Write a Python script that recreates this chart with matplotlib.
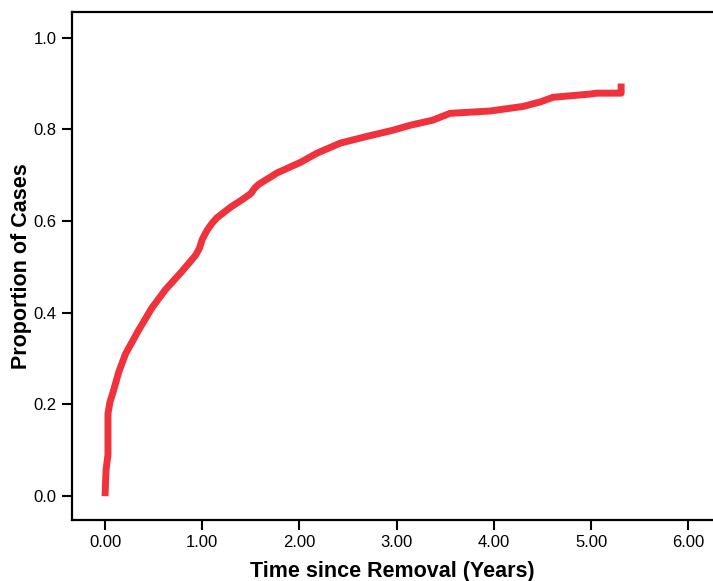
import matplotlib
matplotlib.use("Agg")
import matplotlib.pyplot as plt

plt.rcParams['font.family'] = ['Liberation Sans', 'DejaVu Sans']

years = [0.0, 0.01, 0.03, 0.03, 0.05, 0.08, 0.14, 0.21, 0.34, 0.48, 0.62, 0.79, 0.93, 0.97, 1.0,
         1.05, 1.10, 1.15, 1.29, 1.42, 1.50, 1.54, 1.58, 1.77, 2.01, 2.18, 2.42, 2.70, 2.96,
         3.14, 3.37, 3.55, 3.96, 4.30, 4.48, 4.61, 4.99, 5.06, 5.30, 5.31, 5.31]
proportion = [0.0, 0.057, 0.09, 0.18, 0.205, 0.225, 0.27, 0.31, 0.36, 0.41, 0.45, 0.49, 0.525, 0.54, 0.56,
              0.58, 0.595, 0.607, 0.63, 0.648, 0.66, 0.672, 0.68, 0.705, 0.728, 0.748, 0.77, 0.785, 0.798,
              0.809, 0.82, 0.835, 0.84, 0.85, 0.86, 0.87, 0.877, 0.879, 0.879, 0.879, 0.90]

xticks = [0, 1, 2, 3, 4, 5, 6]
xticklabels = ["0.00", "1.00", "2.00", "3.00", "4.00", "5.00", "6.00"]
yticks = [0.0, 0.2, 0.4, 0.6, 0.8, 1.0]
yticklabels = ["0.0", "0.2", "0.4", "0.6", "0.8", "1.0"]

fig = plt.figure(figsize=(7.13, 5.81), dpi=100)
ax = fig.add_axes([72/713, 1-520/581, 1-72/713, (520-12)/581])

ax.plot(years, proportion, color='#f0323c', linewidth=5, solid_capstyle='butt',
        solid_joinstyle='round')

ax.set_xlim(-0.34, 6.255)
ax.set_ylim(-0.052, 1.056)
ax.set_xticks(xticks)
ax.set_xticklabels(xticklabels)
ax.set_yticks(yticks)
ax.set_yticklabels(yticklabels)

for s in ['left', 'bottom', 'top']:
    ax.spines[s].set_linewidth(1.6)
ax.spines['right'].set_visible(False)
ax.tick_params(direction='out', length=7, width=1.5, labelsize=12, colors='black', pad=4)

ax.set_xlabel("Time since Removal (Years)", fontsize=15.5, fontweight='bold', labelpad=8)
ax.set_ylabel("Proportion of Cases", fontsize=15.5, fontweight='bold', labelpad=1)

fig.savefig("out.png", dpi=100)
